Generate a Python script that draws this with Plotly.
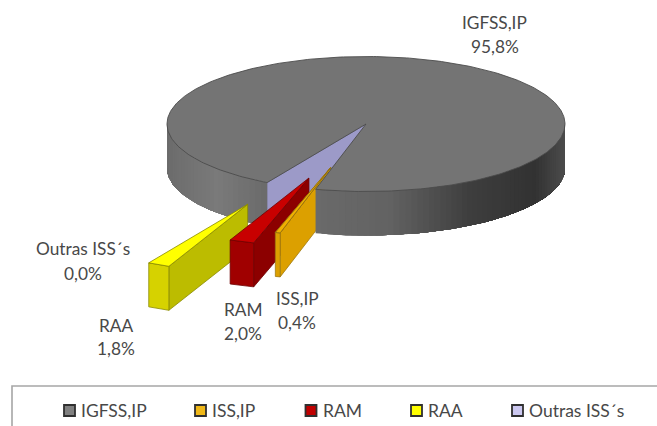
import math
import plotly.graph_objects as go

categories = ["IGFSS,IP", "ISS,IP", "RAM", "RAA", "Outras ISS´s"]
shares = [95.8, 0.4, 2.0, 1.8, 0.0]
explode = [0.0, 0.67, 0.85, 1.33, 0.0]

# drawing parameters of the 3D pie (pixels)
CX, CY, RX, RY, DEPTH = 366, 124, 199, 67.5, 44
FIRST_ANGLE = 209.8
TEXT = "#484848"
FONT = "Lato"

legend_colors = ["#808080", "#f0b818", "#c00000", "#ffff00", "#ccc8f0"]
legend_swatch_x = [69.5, 200.5, 311, 416.5, 517.5]
label_pos = [(494.5, 22, 46), (297, 298, 322), (243, 309, 333), (116, 325, 348), (82.5, 248, 273)]

fig = go.Figure()


def poly(pts, fill, line=None, lw=0.8):
    xs = [p[0] for p in pts] + [pts[0][0]]
    ys = [p[1] for p in pts] + [pts[0][1]]
    fig.add_trace(go.Scatter(
        x=xs, y=ys, mode="lines", fill="toself", fillcolor=fill,
        line=dict(color=line or fill, width=lw if line else 0),
        hoverinfo="skip", showlegend=False))


def pt(theta, dx=0, dy=0, z=0):
    t = math.radians(theta)
    return (CX + dx + RX * math.sin(t), CY + dy - RY * math.cos(t) + z)


def arc(a, b, dx=0, dy=0, z=0, n=None):
    n = n or max(2, int(abs(b - a) * 2))
    return [pt(a + (b - a) * i / n, dx, dy, z) for i in range(n + 1)]


def blend(stops, u):
    for (u0, c0), (u1, c1) in zip(stops, stops[1:]):
        if u <= u1:
            f = (u - u0) / (u1 - u0)
            v = round(c0 + (c1 - c0) * f)
            return f"rgb({v},{v},{v})"
    v = stops[-1][1]
    return f"rgb({v},{v},{v})"


def wall(start, stop, stops, n):
    # painted from the far end back so each band overlaps the previous one
    x0, x1 = pt(start)[0], pt(stop)[0]
    for i in range(n):
        a1 = start + (stop - start) * i / n
        a2 = start + (stop - start) * (i + 1) / n
        u = (pt((a1 + a2) / 2)[0] - x0) / (x1 - x0)
        poly(arc(a1, stop, n=max(2, n - i)) + arc(stop, a1, z=DEPTH, n=max(2, n - i)), blend(stops, u))


# angular spans derived from the shares
spans = []
a = FIRST_ANGLE
for s in shares:
    b = a + s * 3.6
    spans.append((a, b))
    a = b
main_start = FIRST_ANGLE
main_end = FIRST_ANGLE + shares[0] * 3.6


def offsets(i):
    a, b = spans[i]
    mid = math.radians((a + b) / 2)
    return explode[i] * RX * math.sin(mid), -explode[i] * RY * math.cos(mid)


def slice_side_and_rim(i, top, rim, side, line):
    a, b = spans[i]
    a, b = a % 360, b % 360
    dx, dy = offsets(i)
    c_top = (CX + dx, CY + dy)
    c_bot = (CX + dx, CY + dy + DEPTH)
    # side wall at the lower angle faces the viewer
    poly([c_top, pt(a, dx, dy), pt(a, dx, dy, DEPTH), c_bot], side, line)
    poly(arc(a, b, dx, dy) + arc(b, a, dx, dy, DEPTH), rim, line)
    poly([c_top] + arc(a, b, dx, dy), top, line)


# lavender cut face of the zero-share slice
e = spans[4][0] % 360
poly([(CX, CY), pt(e), pt(e, z=DEPTH), (CX, CY + DEPTH)], "#9c9ac8", "#6e6e90")

# left outer wall of the main slice
wall(e, 270, [(0, 106), (0.5, 122), (1, 108)], 30)

slice_side_and_rim(3, "#ffff00", "#d6d200", "#bcbc00", "#8a8a00")
slice_side_and_rim(2, "#c80000", "#a00000", "#8c0000", "#6e0000")
slice_side_and_rim(1, "#f0b000", "#dca000", "#dca000", "#a07a10")

# right outer wall of the main slice with a dark gradient
wall(main_end - 360, 90, [(0, 106), (0.3, 98), (0.62, 62), (0.88, 50), (1, 76)], 60)

# top of the main slice
poly([(CX, CY)] + arc(main_start, main_end, n=360), "#747474", "#4c4c4c", 0.9)

# thin top of the small slice reaches onto the main slice
a, b = spans[1]
dx, dy = offsets(1)
poly([(CX + dx, CY + dy)] + arc(a, b, dx, dy), "#f0b000", "#8a6a10", 0.8)

# data labels
annots = []
for name, v, (x, y1, y2) in zip(categories, shares, label_pos):
    pct = f"{v:.1f}".replace(".", ",") + "%"
    for txt, y in ((name, y1), (pct, y2)):
        annots.append(dict(x=x, y=y, text=txt, showarrow=False, xanchor="center", yanchor="middle",
                           font=dict(family=FONT, size=17.3, color=TEXT)))

# legend frame, swatches and labels
shapes = [dict(type="path", path="M 12 426 L 12 386 L 657 386",
               line=dict(color="#a6a6a6", width=1.6))]
fig.add_trace(go.Scatter(
    x=legend_swatch_x, y=[410.5] * 5, mode="markers",
    marker=dict(symbol="square", size=11, color=legend_colors,
                line=dict(color="#303030", width=1.8)),
    hoverinfo="skip", showlegend=False))
for name, sx in zip(categories, legend_swatch_x):
    annots.append(dict(x=sx + 9.5, y=410, text=name, showarrow=False, xanchor="left", yanchor="middle",
                       font=dict(family=FONT, size=17.5, color=TEXT)))

fig.update_layout(
    width=657, height=426, margin=dict(l=0, r=0, t=0, b=0),
    paper_bgcolor="white", plot_bgcolor="white", showlegend=False,
    xaxis=dict(range=[0, 657], visible=False, fixedrange=True),
    yaxis=dict(range=[426, 0], visible=False, fixedrange=True),
    annotations=annots, shapes=shapes)

fig.write_html("out.html", config=dict(displayModeBar=False),
               post_script="document.body.style.margin='0';")
